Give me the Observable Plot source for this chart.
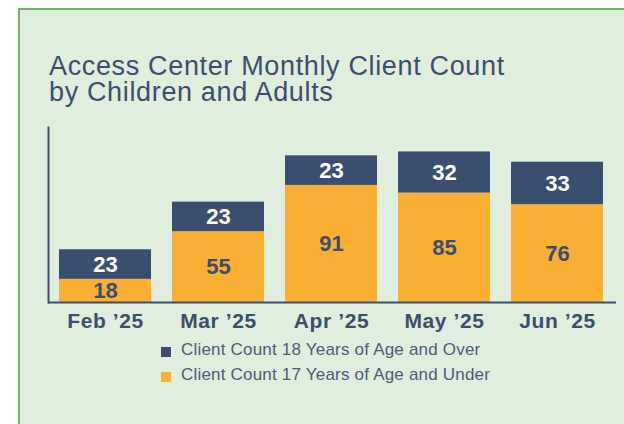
<!DOCTYPE html>
<html>
<head>
<meta charset="utf-8">
<script src="https://cdn.jsdelivr.net/npm/d3@7"></script>
<script src="https://cdn.jsdelivr.net/npm/@observablehq/plot@0.6"></script>
<style>
  html, body { margin: 0; padding: 0; background: #ffffff; width: 624px; height: 424px; overflow: hidden; position: relative; }
  #panel { position: absolute; left: 18px; top: 8px; width: 700px; height: 500px; box-sizing: border-box;
           border-left: 2px solid #6db662; border-top: 2px solid #6db662; background: #dfeedd; }
  .title { position: absolute; left: 49px; height: 26px; font-family: "Liberation Sans", Arial, sans-serif;
           font-size: 27px; line-height: 26px; letter-spacing: 0.65px; color: #3a4f6f; white-space: nowrap; }
  #chart { position: absolute; left: 0; top: 0; }
  .legend { position: absolute; left: 161px; font-family: "Liberation Sans", Arial, sans-serif; font-size: 17px;
            line-height: 25px; letter-spacing: 0.2px; color: #4a5c7b; white-space: nowrap; }
  .legend .sw { position: absolute; left: 0; top: 10px; width: 10px; height: 10px; }
  .legend .lb { position: absolute; left: 20px; top: 0; }
  svg g[aria-label="x-axis tick label"] text { letter-spacing: 0.6px; }
</style>
</head>
<body>
<div id="panel"></div>
<div class="title" style="top:52.6px">Access Center Monthly Client Count</div>
<div class="title" style="top:78.6px">by Children and Adults</div>
<div id="chart"></div>
<div id="legend"></div>
<script>
const months = ["Feb \u201925", "Mar \u201925", "Apr \u201925", "May \u201925", "Jun \u201925"];
const children = [18, 55, 91, 85, 76];
const adults = [23, 23, 23, 32, 33];
const seriesNames = ["Client Count 18 Years of Age and Over", "Client Count 17 Years of Age and Under"];
const navy = "#3a4f6f";
const orange = "#fbae34";

const data = [];
months.forEach((m, i) => {
  data.push({month: m, group: "child", value: children[i]});
  data.push({month: m, group: "adult", value: adults[i]});
});

const plot = Plot.plot({
  width: 624,
  height: 345,
  marginLeft: 48,
  marginRight: 10,
  marginTop: 127,
  marginBottom: 43,
  style: {background: "transparent", fontFamily: "'Liberation Sans', Arial, sans-serif"},
  x: {domain: months, paddingInner: 0.19, paddingOuter: 0.088, label: null},
  y: {domain: [0, 136], axis: null},
  color: {type: "identity"},
  marks: [
    Plot.barY(data, {x: "month", y: "value", fill: d => d.group === "adult" ? navy : orange}),
    Plot.text(data, Plot.stackY({x: "month", y: "value", text: d => String(d.value),
      fill: d => d.group === "adult" ? "#ffffff" : navy,
      fontSize: 22, fontWeight: "bold"})),
    Plot.axisX({tickSize: 0, tickPadding: 11, fontSize: 21, fontWeight: "bold", fill: navy, label: null}),
    Plot.frame({anchor: "left", stroke: navy, strokeWidth: 2}),
    Plot.ruleY([0], {stroke: navy, strokeWidth: 2, insetRight: -2})
  ]
});
document.getElementById("chart").appendChild(plot);

const legend = document.getElementById("legend");
[[seriesNames[0], navy, 337], [seriesNames[1], orange, 362]].forEach(([name, color, top]) => {
  const row = document.createElement("div");
  row.className = "legend";
  row.style.top = top + "px";
  row.innerHTML = `<span class="sw" style="background:${color}"></span><span class="lb">${name}</span>`;
  legend.appendChild(row);
});
</script>
</body>
</html>
